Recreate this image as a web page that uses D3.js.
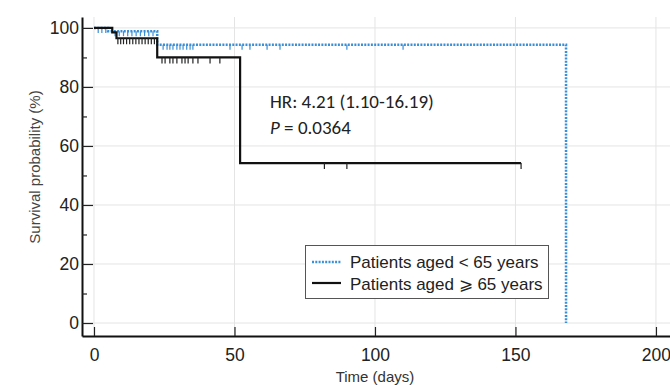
<!DOCTYPE html>
<html>
<head>
<meta charset="utf-8">
<script src="https://cdn.jsdelivr.net/npm/d3@7"></script>
<style>
  body { margin: 0; background: #fff; }
  svg { display: block; }
  text { font-family: "Liberation Sans", Arial, sans-serif; }
</style>
</head>
<body>
<svg id="km" width="670" height="385"></svg>
<script>
// step curves (time in days, survival %)
const youngTimes = [0, 5, 22.5, 168];
const youngSurv = [100, 98.9, 94.3, 0];
const oldTimes = [0, 6.5, 8, 22.5, 52, 152];
const oldSurv = [100, 98.5, 96.5, 90, 54.2, 54.2];

// censored observations
const youngCensor = [1.5, 2.8, 4.2, 7.5, 9, 10.5, 12, 13.5, 15, 16.5, 18, 19.5, 21,
  24.6, 26, 27, 28.1, 29.5, 30.6, 31.7, 33, 34.2, 35.2, 48.4, 52.7, 55.5, 61.6, 66.2, 90, 110];
const oldCensor = [8.5, 9.5, 10.5, 11.6, 12.7, 13.8, 14.9, 16, 17.1, 18.2, 19.3, 20.4, 21.5,
  24.2, 25.3, 27, 28.1, 29.5, 31.3, 32.4, 33.5, 35.2, 37, 41.3, 44.8, 82, 90, 152];

const xTicks = [0, 50, 100, 150, 200];
const yTicks = [0, 20, 40, 60, 80, 100];
const yMinor = [10, 30, 50, 70, 90];

const svg = d3.select("#km");
const x = d3.scaleLinear().domain([-4.27, 205]).range([82, 670]);
const y = d3.scaleLinear().domain([-4.4, 103.7]).range([336, 17]);

// gridlines
svg.append("g").selectAll("line").data(xTicks).join("line")
  .attr("x1", d => x(d)).attr("x2", d => x(d))
  .attr("y1", y(103.7)).attr("y2", y(-4.4))
  .attr("stroke", "#e4e4e4").attr("stroke-width", 1);
svg.append("g").selectAll("line").data(yTicks).join("line")
  .attr("x1", x(-4.27)).attr("x2", 670)
  .attr("y1", d => y(d)).attr("y2", d => y(d))
  .attr("stroke", "#e4e4e4").attr("stroke-width", 1);

// survival value at time t
function survAt(times, surv, t) {
  let s = surv[0];
  for (let i = 0; i < times.length; i++) if (times[i] <= t) s = surv[i];
  return s;
}

const line = d3.line().x(d => x(d[0])).y(d => y(d[1])).curve(d3.curveStepAfter);

// younger group (blue dotted)
const blue = "#3a8fd9";
svg.append("path")
  .datum(youngTimes.map((t, i) => [t, youngSurv[i]]))
  .attr("d", line).attr("fill", "none")
  .attr("stroke", blue).attr("stroke-width", 2.5)
  .attr("stroke-dasharray", "2,1.3");
svg.append("g").selectAll("line").data(youngCensor).join("line")
  .attr("x1", d => x(d)).attr("x2", d => x(d))
  .attr("y1", d => y(survAt(youngTimes, youngSurv, d)))
  .attr("y2", d => y(survAt(youngTimes, youngSurv, d)) + 5)
  .attr("stroke", blue).attr("stroke-width", 1.2);

// older group (black solid)
svg.append("path")
  .datum(oldTimes.map((t, i) => [t, oldSurv[i]]))
  .attr("d", line).attr("fill", "none")
  .attr("stroke", "#111").attr("stroke-width", 2.2);
svg.append("g").selectAll("line").data(oldCensor).join("line")
  .attr("x1", d => x(d)).attr("x2", d => x(d))
  .attr("y1", d => y(survAt(oldTimes, oldSurv, d)))
  .attr("y2", d => y(survAt(oldTimes, oldSurv, d)) + 6)
  .attr("stroke", "#222").attr("stroke-width", 1.2);

// axes
const xAxis = svg.append("g").attr("transform", `translate(0,${y(-4.4)})`)
  .call(d3.axisBottom(x).tickValues(xTicks).tickSize(-9).tickSizeOuter(0).tickPadding(19));
const yAxis = svg.append("g").attr("transform", `translate(${x(-4.27)},0)`)
  .call(d3.axisLeft(y).tickValues(yTicks).tickSize(-11).tickSizeOuter(0).tickPadding(16));
svg.append("g").attr("transform", `translate(${x(-4.27)},0)`)
  .call(d3.axisLeft(y).tickValues(yMinor).tickSize(-5).tickFormat(""))
  .call(g => g.select(".domain").remove());
[xAxis, yAxis].forEach(g => {
  g.attr("font-family", null).attr("font-size", null);
  g.select(".domain").attr("stroke", "#111").attr("stroke-width", 2);
  g.selectAll(".tick text").style("font-size", "17.5px").attr("fill", "#222");
});
svg.selectAll(".tick line").attr("stroke", "#222").attr("stroke-width", 1.2);
xAxis.selectAll(".tick text").attr("dy", "0.35em");
yAxis.selectAll(".tick text").attr("dx", "13");

// axis titles
svg.append("text").attr("x", x(100)).attr("y", 382)
  .attr("text-anchor", "middle").style("font-size", "15px").attr("fill", "#333")
  .text("Time (days)");
svg.append("text").attr("transform", "translate(40,167) rotate(-90)")
  .attr("text-anchor", "middle").style("font-size", "15px").attr("fill", "#444")
  .text("Survival probability (%)");

// hazard ratio annotation
const ann = svg.append("g").attr("fill", "#222");
ann.append("text").attr("x", 270).attr("y", 108).style("font-size", "19px")
  .style("font-family", "Carlito, Lato, 'Open Sans', sans-serif")
  .text("HR: 4.21 (1.10-16.19)");
const p = ann.append("text").attr("x", 270).attr("y", 134).style("font-size", "19px")
  .style("font-family", "Carlito, Lato, 'Open Sans', sans-serif");
p.append("tspan").attr("font-style", "italic").text("P");
p.append("tspan").text(" = 0.0364");

// legend
const lg = svg.append("g");
lg.append("rect").attr("x", 305.5).attr("y", 245.5).attr("width", 243).attr("height", 53)
  .attr("fill", "#fff").attr("stroke", "#555").attr("stroke-width", 1);
lg.append("line").attr("x1", 312).attr("x2", 341).attr("y1", 262).attr("y2", 262)
  .attr("stroke", blue).attr("stroke-width", 2.5).attr("stroke-dasharray", "2,1.3");
lg.append("line").attr("x1", 312).attr("x2", 341).attr("y1", 283).attr("y2", 283)
  .attr("stroke", "#111").attr("stroke-width", 2.2);
lg.append("text").attr("x", 350).attr("y", 268).style("font-size", "17px").attr("fill", "#222")
  .text("Patients aged < 65 years");
lg.append("text").attr("x", 350).attr("y", 290).style("font-size", "17px").attr("fill", "#222")
  .text("Patients aged ⩾ 65 years");
</script>
</body>
</html>
